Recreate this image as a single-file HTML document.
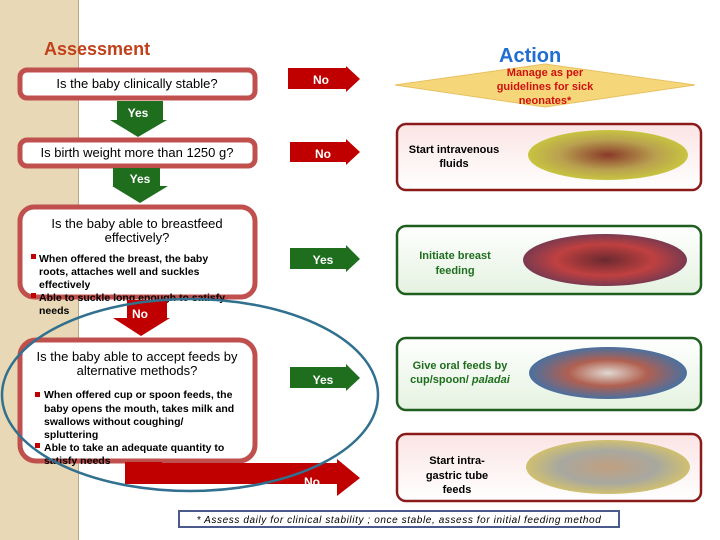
<!DOCTYPE html>
<html><head><meta charset="utf-8"><style>
body{margin:0;width:720px;height:540px;overflow:hidden;background:#fff}
svg{display:block}
text{font-family:"Liberation Sans",sans-serif}
</style></head><body>
<svg width="720" height="540" viewBox="0 0 720 540">
<defs>
<linearGradient id="pk" x1="0" y1="0" x2="0" y2="1"><stop offset="0" stop-color="#fbe4e4"/><stop offset="1" stop-color="#fff"/></linearGradient>
<linearGradient id="gr" x1="0" y1="0" x2="0" y2="1"><stop offset="0" stop-color="#fff"/><stop offset="1" stop-color="#e4f2e0"/></linearGradient>
<radialGradient id="im1"><stop offset="0" stop-color="#8a3a2a"/><stop offset="0.6" stop-color="#b9a050"/><stop offset="1" stop-color="#c8c440"/></radialGradient>
<radialGradient id="im2"><stop offset="0" stop-color="#6a2a30"/><stop offset="0.6" stop-color="#c04040"/><stop offset="1" stop-color="#7a3a50"/></radialGradient>
<radialGradient id="im3"><stop offset="0" stop-color="#e0d8d0"/><stop offset="0.5" stop-color="#b06050"/><stop offset="1" stop-color="#4a70a0"/></radialGradient>
<radialGradient id="im4"><stop offset="0" stop-color="#c0a080"/><stop offset="0.6" stop-color="#a8a8a0"/><stop offset="1" stop-color="#d0c070"/></radialGradient>
</defs>
<rect x="0" y="0" width="78" height="540" fill="#e9d8b6"/>
<line x1="78.5" y1="0" x2="78.5" y2="540" stroke="#b8a888" stroke-width="1"/>
<text x="44" y="55" font-size="18" font-weight="bold" fill="#c0401a">Assessment</text>
<text x="499" y="62" font-size="20" font-weight="bold" fill="#1f6fd0">Action</text>

<g fill="#fff" stroke="#c0504d" stroke-width="5">
<rect x="20" y="70" width="235" height="28" rx="7"/>
<rect x="20" y="140" width="235" height="26" rx="7"/>
<rect x="20" y="207" width="235" height="90" rx="14"/>
<rect x="20" y="340" width="235" height="121" rx="16"/>
</g>
<text x="137" y="88" font-size="13" text-anchor="middle" fill="#000">Is the baby clinically stable?</text>
<text x="137" y="157" font-size="13" text-anchor="middle" fill="#000">Is birth weight more than 1250 g?</text>
<text x="137" y="228" font-size="13" text-anchor="middle">Is the baby able to breastfeed</text>
<text x="137" y="242" font-size="13" text-anchor="middle">effectively?</text>
<g font-size="10.5" font-weight="bold" fill="#000">
<rect x="31" y="254" width="5" height="5" fill="#c00000"/>
<text x="39" y="262">When offered the breast,  the baby</text>
<text x="39" y="275">roots, attaches well and suckles</text>
<text x="39" y="288">effectively</text>
<rect x="31" y="293" width="5" height="5" fill="#c00000"/>
<text x="39" y="301">Able to suckle long enough to satisfy</text>
<text x="39" y="314">needs</text>
</g>
<text x="137" y="361" font-size="13" text-anchor="middle">Is the baby able to accept feeds by</text>
<text x="137" y="375" font-size="13" text-anchor="middle">alternative methods?</text>
<g font-size="10.5" font-weight="bold">
<rect x="35" y="392" width="5" height="5" fill="#c00000"/>
<text x="44" y="398">When offered cup or spoon feeds,  the</text>
<text x="44" y="412">baby opens the mouth, takes milk and</text>
<text x="44" y="425">swallows without coughing/</text>
<text x="44" y="438">spluttering</text>
<rect x="35" y="443" width="5" height="5" fill="#c00000"/>
<text x="44" y="451">Able to take an adequate quantity to</text>
<text x="44" y="464">satisfy needs</text>
</g>

<polygon points="117,101 163,101 163,120 167,120 138,137 110,120 117,120" fill="#1e6e1e"/>
<text x="138" y="117" font-size="12" font-weight="bold" fill="#fff" text-anchor="middle">Yes</text>
<polygon points="113,168 160,168 160,186 168,186 140,203 112,186 113,186" fill="#1e6e1e"/>
<text x="140" y="183" font-size="12" font-weight="bold" fill="#fff" text-anchor="middle">Yes</text>
<polygon points="127,300 167,300 167,318 170,318 141,336 113,318 127,318" fill="#c00000"/>
<text x="140" y="318" font-size="12" font-weight="bold" fill="#fff" text-anchor="middle">No</text>
<polygon points="125,462 162,462 162,463 337,463 337,459 360,478 337,496 337,484 125,484" fill="#c00000"/>
<text x="312" y="486" font-size="12" font-weight="bold" fill="#fff" text-anchor="middle">No</text>

<polygon points="288,68 346,68 346,66 360,79 346,92 346,89 288,89" fill="#c00000"/>
<text x="321" y="84" font-size="12" font-weight="bold" fill="#fff" text-anchor="middle">No</text>
<polygon points="290,142 346,142 346,139 360,152 346,165 346,162 290,162" fill="#c00000"/>
<text x="323" y="158" font-size="12" font-weight="bold" fill="#fff" text-anchor="middle">No</text>
<polygon points="290,248 346,248 346,245 360,259 346,272 346,269 290,269" fill="#1e6e1e"/>
<text x="323" y="264" font-size="12" font-weight="bold" fill="#fff" text-anchor="middle">Yes</text>
<polygon points="290,367 346,367 346,364 360,378 346,391 346,388 290,388" fill="#1e6e1e"/>
<text x="323" y="384" font-size="12" font-weight="bold" fill="#fff" text-anchor="middle">Yes</text>

<ellipse cx="190" cy="395" rx="188" ry="96" fill="none" stroke="#31708f" stroke-width="2.5"/>

<polygon points="395,85 545,64 695,85 545,107" fill="#f5d77a" stroke="#e8c060"/>
<g font-size="11" font-weight="bold" fill="#d01010" text-anchor="middle">
<text x="545" y="76">Manage as per</text>
<text x="545" y="90">guidelines for  sick</text>
<text x="545" y="104">neonates*</text>
</g>

<rect x="397" y="124" width="304" height="66" rx="9" fill="url(#pk)" stroke="#8b1a1a" stroke-width="2.5"/>
<ellipse cx="608" cy="155" rx="80" ry="25" fill="url(#im1)"/>
<text x="454" y="153" font-size="11" font-weight="bold" text-anchor="middle">Start intravenous</text>
<text x="454" y="167" font-size="11" font-weight="bold" text-anchor="middle">fluids</text>

<rect x="397" y="226" width="304" height="68" rx="9" fill="url(#gr)" stroke="#1e5e1e" stroke-width="2.5"/>
<ellipse cx="605" cy="260" rx="82" ry="26" fill="url(#im2)"/>
<text x="455" y="259" font-size="11" font-weight="bold" fill="#1e6e1e" text-anchor="middle">Initiate breast</text>
<text x="455" y="274" font-size="11" font-weight="bold" fill="#1e6e1e" text-anchor="middle">feeding</text>

<rect x="397" y="338" width="304" height="72" rx="9" fill="url(#gr)" stroke="#1e5e1e" stroke-width="2.5"/>
<ellipse cx="608" cy="373" rx="79" ry="26" fill="url(#im3)"/>
<text x="460" y="369" font-size="11" font-weight="bold" fill="#1e6e1e" text-anchor="middle">Give oral feeds by</text>
<text x="460" y="383" font-size="11" font-weight="bold" fill="#1e6e1e" text-anchor="middle">cup/spoon/ <tspan font-style="italic">paladai</tspan></text>

<rect x="397" y="434" width="304" height="67" rx="9" fill="url(#pk)" stroke="#8b1a1a" stroke-width="2.5"/>
<ellipse cx="608" cy="467" rx="82" ry="27" fill="url(#im4)"/>
<g font-size="11" font-weight="bold" text-anchor="middle">
<text x="457" y="464">Start intra-</text>
<text x="457" y="479">gastric  tube</text>
<text x="457" y="493">feeds</text>
</g>

<rect x="179" y="511" width="440" height="16" fill="#fff" stroke="#4a5a8a" stroke-width="2"/>
<text x="399" y="523" font-size="10" font-style="italic" letter-spacing="0.6" text-anchor="middle">*  Assess daily for clinical stability ; once stable, assess for initial feeding method</text>
</svg>
</body></html>
